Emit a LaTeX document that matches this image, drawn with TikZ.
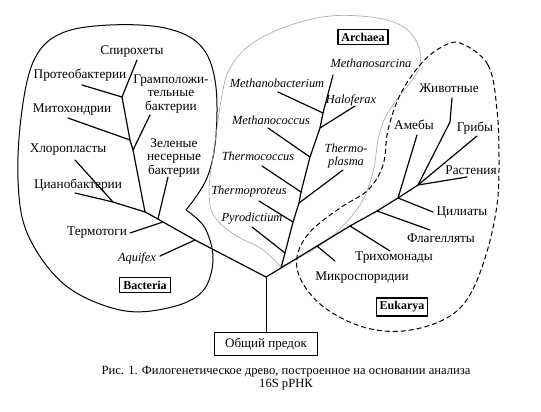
\documentclass[tikz,border=0pt]{standalone}
\usepackage{fontspec}
\setmainfont{Liberation Serif}
\begin{document}
\begin{tikzpicture}[x=1pt,y=-1pt,
  lbl/.style={font=\fontsize{13.3}{13.5}\selectfont, inner sep=0pt, align=center},
  lat/.style={font=\fontsize{12.4}{13}\selectfont\itshape, inner sep=0pt, align=center},
  branch/.style={line width=1.2pt, line cap=round, line join=round},
  grp/.style={draw, line width=1.3pt, inner sep=3.5pt,
    font=\fontsize{12}{12}\selectfont\bfseries},
  bact/.style={line width=1pt},
  arch/.style={line width=0.6pt, gray!70},
  euk/.style={line width=1pt, dash pattern=on 5pt off 3pt}]
\useasboundingbox (0,0) rectangle (541,412);

% envelopes
\draw[bact] plot[smooth, tension=0.6] coordinates {(186,210) (207,178) (216,135) (215,80) (200,45) (165,28) (110,25) (62,33) (35,58) (22,110) (18,180) (28,235) (65,285) (120,310) (168,308) (202,292) (213,260) (205,228) (186,210)};
\draw[arch] plot[smooth, tension=0.6] coordinates {(280,266) (262,249) (235,235) (214,216) (209,190) (214,150) (222,95) (230,68) (250,45) (285,27) (330,16) (378,18) (405,28) (418,45) (420,65) (412,80) (398,98) (385,118) (378,140) (373,172) (360,205) (330,238) (295,260) (280,266)};
\draw[euk] plot[smooth cycle, tension=0.6] coordinates {(460,43) (488,65) (497,110) (499,160) (497,205) (486,255) (468,298) (443,320) (403,331) (363,327) (325,308) (302,282) (297,257) (310,232) (340,208) (368,190) (383,165) (388,130) (400,95) (420,65) (440,48)};

% junction coordinates
\coordinate (root) at (266,277);
\coordinate (bA) at (195,240);
\coordinate (bT) at (163,222);
\coordinate (bG) at (158,219);
\coordinate (bC) at (145,212);
\coordinate (bCh) at (113,202);
\coordinate (bGr) at (133,150);
\coordinate (bM) at (130,140);
\coordinate (bS) at (122,97);

\coordinate (aR) at (281,268);
\coordinate (aP) at (285,253);
\coordinate (aTp) at (293,222);
\coordinate (aTpl) at (299,203);
\coordinate (aTc) at (301,192);
\coordinate (aMc) at (310,157);
\coordinate (aH) at (320,128);
\coordinate (aMb) at (323,113);
\coordinate (aMs) at (333,75);

\coordinate (eMi) at (317,246);
\coordinate (eTr) at (350,226);
\coordinate (eF) at (377,211);
\coordinate (eC) at (398,198);
\coordinate (eTop) at (418,185);
\coordinate (eAnK) at (450,122);

% labels: bacteria
\node[lbl] (spiro) at (132,52) {Спирохеты};
\node[lbl] (proteo) at (80,75) {Протеобактерии};
\node[lbl] (gram) at (171,94) {Грамположи-\\тельные\\бактерии};
\node[lbl] (mito) at (72,110) {Митохондрии};
\node[lbl] (green) at (174,158) {Зеленые\\несерные\\бактерии};
\node[lbl] (chloro) at (68,150) {Хлоропласты};
\node[lbl] (cyano) at (78,185) {Цианобактерии};
\node[lbl] (thermo) at (97,233) {Термотоги};
\node[lat] (aquif) at (137,258) {Aquifex};
\node[grp] (bacteria) at (145,285) {Bacteria};

% labels: archaea
\node[grp] (archaea) at (363,37) {Archaea};
\node[lat] (msarc) at (371,63) {Methanosarcina};
\node[lat] (mbact) at (277,83) {Methanobacterium};
\node[lat] (halo) at (351,100) {Haloferax};
\node[lat] (mcoc) at (271,120) {Methanococcus};
\node[lat] (tpl) at (346,156) {Thermo-\\plasma};
\node[lat] (tcoc) at (258,156) {Thermococcus};
\node[lat] (tprot) at (249,192) {Thermoproteus};
\node[lat] (pyro) at (252,219) {Pyrodictium};

% labels: eukarya
\node[lbl] (anim) at (449,88) {Животные};
\node[lbl] (amoeba) at (414,125) {Амебы};
\node[lbl] (fungi) at (475,128) {Грибы};
\node[lbl] (plant) at (471,170) {Растения};
\node[lbl] (cil) at (462,213) {Цилиаты};
\node[lbl] (flag) at (441,238) {Флагелляты};
\node[lbl] (trich) at (394,258) {Трихомонады};
\node[lbl] (micro) at (362,278) {Микроспоридии};
\node[grp] (eukarya) at (402,307) {Eukarya};

% root
\node[draw, line width=0.6pt, minimum width=103pt, minimum height=23pt, inner sep=2pt,
  font=\fontsize{13}{13.5}\selectfont] (anc) at (266,344) {Общий предок};

% caption
\node[font=\fontsize{12.6}{13.5}\selectfont, align=center, inner sep=0pt] (cap) at (286,378)
  {Рис. 1. Филогенетическое древо, построенное на основании анализа\\16S рРНК};

% label-end coordinates
\coordinate (eSpiro) at (137,60);
\coordinate (eProteo) at (82,85);
\coordinate (eGram) at (150,115);
\coordinate (eMito) at (68,118);
\coordinate (eGreen) at (168,177);
\coordinate (eChloro) at (75,160);
\coordinate (eCyano) at (75,193);
\coordinate (eThermo) at (130,233);
\coordinate (eAquif) at (160,256);

\coordinate (ePyro) at (252,227);
\coordinate (eTprot) at (259,201);
\coordinate (eTcoc) at (262,166);
\coordinate (eTpl) at (343,170);
\coordinate (eMcoc) at (268,128);
\coordinate (eHalo) at (355,106);
\coordinate (eMbact) at (278,92);

\coordinate (eAnim) at (452,98);
\coordinate (eAmoeba) at (417,135);
\coordinate (eFungi) at (477,136);
\coordinate (ePlant) at (467,177);
\coordinate (eCil) at (433,212);
\coordinate (eFlag) at (430,230);
\coordinate (eTrich) at (390,251);
\coordinate (eMicro) at (335,261);

% tree: bacteria
\draw[line width=0.8pt] (anc.north) -- (root);
\draw[branch] (root) -- (bA) -- (bT) -- (bG) -- (bC) -- (bGr) -- (bM) -- (bS) -- (eSpiro);
\draw[branch] (bS) -- (eProteo);
\draw[branch] (bGr) -- (eGram);
\draw[branch] (bM) -- (eMito);
\draw[branch] (bG) -- (eGreen);
\draw[branch] (bC) -- (bCh) -- (eCyano);
\draw[branch] (bCh) -- (eChloro);
\draw[branch] (bT) -- (eThermo);
\draw[branch] (bA) -- (eAquif);

% tree: archaea
\draw[branch] (aR) -- (aP) -- (aTp) -- (aTpl) -- (aTc) -- (aMc) -- (aH) -- (aMb) -- (aMs);
\draw[branch] (aP) -- (ePyro);
\draw[branch] (aTp) -- (eTprot);
\draw[branch] (aTpl) -- (eTpl);
\draw[branch] (aTc) -- (eTcoc);
\draw[branch] (aMc) -- (eMcoc);
\draw[branch] (aH) -- (eHalo);
\draw[branch] (aMb) -- (eMbact);

% tree: eukarya
\draw[branch] (root) -- (aR) -- (eMi) -- (eTr) -- (eF) -- (eC) -- (eTop) -- (eAnK) -- (eAnim);
\draw[branch] (eMi) -- (eMicro);
\draw[branch] (eTr) -- (eTrich);
\draw[branch] (eF) -- (eFlag);
\draw[branch] (eC) -- (eCil);
\draw[branch] (eC) -- (eAmoeba);
\draw[branch] (eTop) -- (eFungi);
\draw[branch] (eTop) -- (ePlant);
\end{tikzpicture}
\end{document}
